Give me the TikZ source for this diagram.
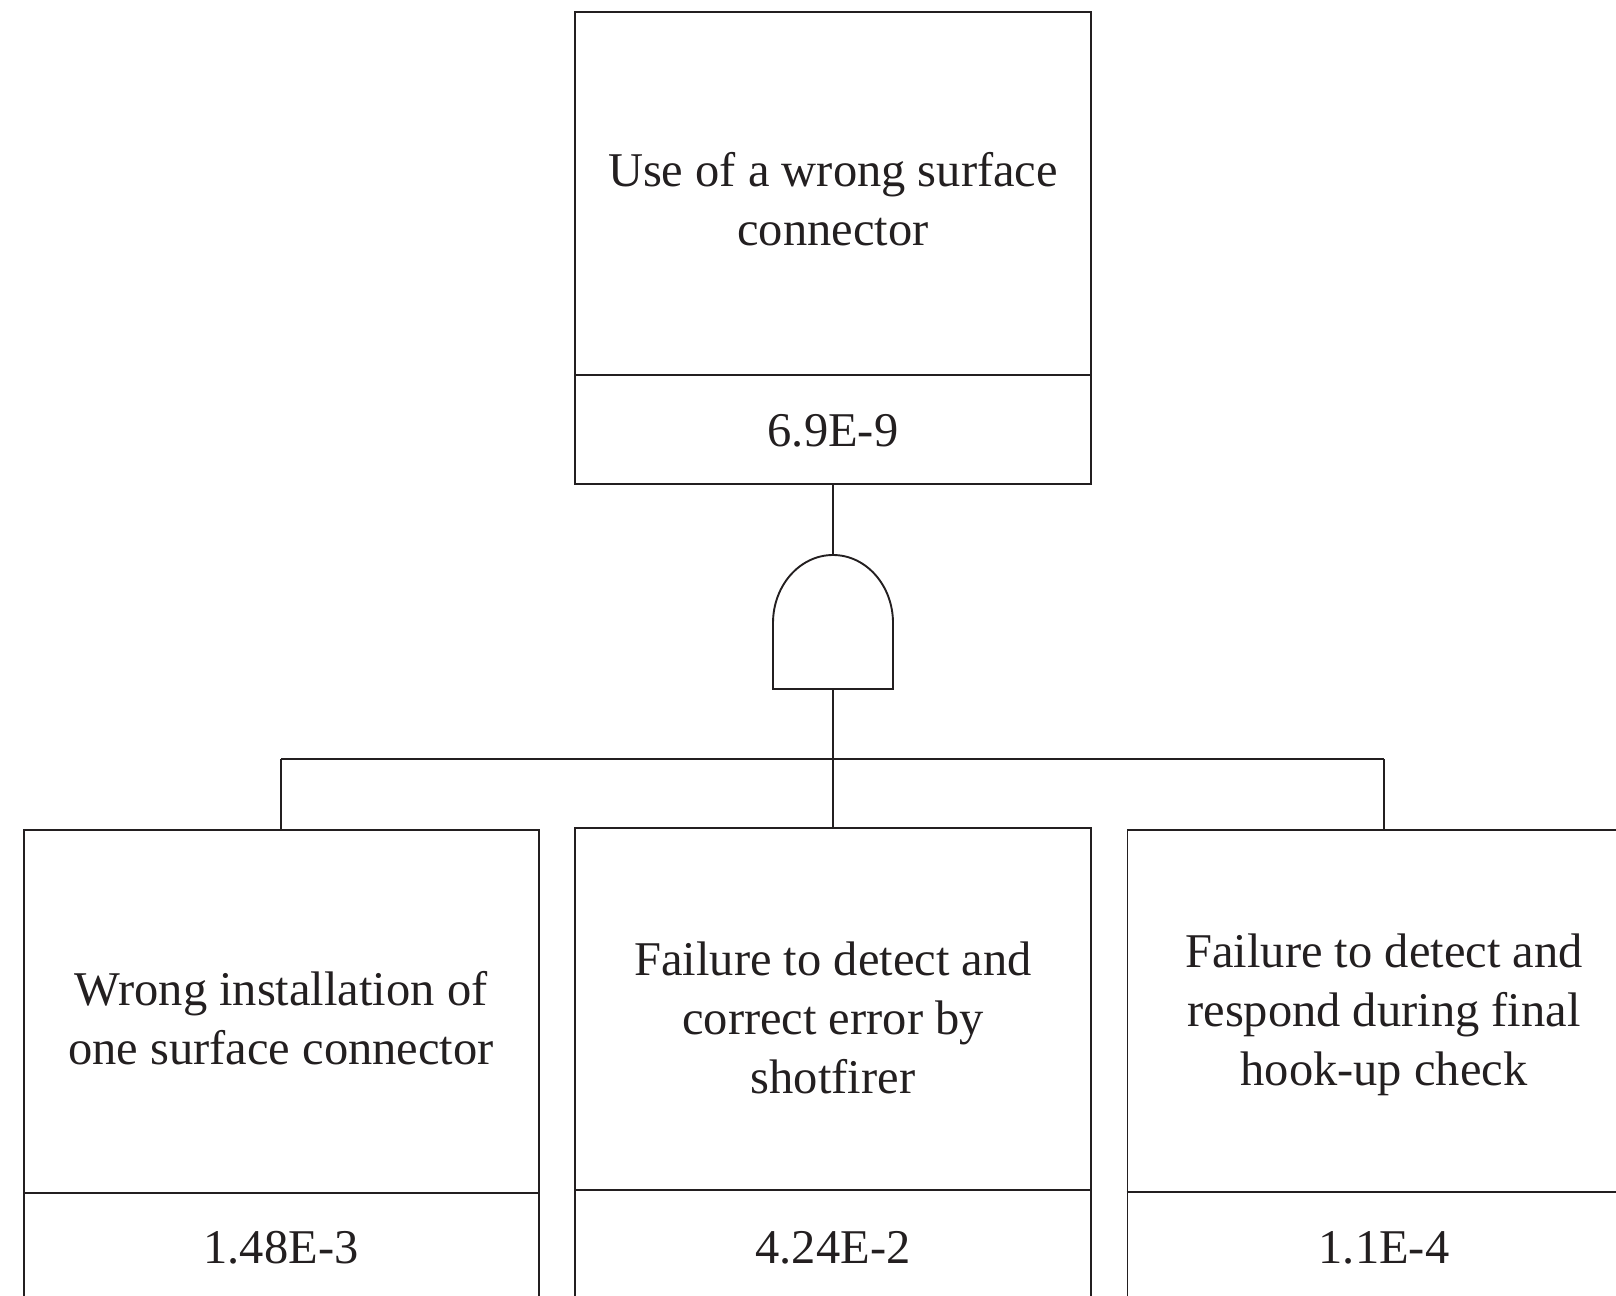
\documentclass[tikz,border=0pt]{standalone}
\usepackage{fontspec}
\setmainfont{Liberation Serif}
\definecolor{ink}{HTML}{231F20}
\begin{document}
\begin{tikzpicture}[x=1pt,y=-1pt,
  box/.style={draw=ink,line width=1.9pt,rectangle,inner sep=0pt,minimum width=#1},
  lbl/.style={text=ink,align=center,inner sep=0pt,font=\fontsize{48.5}{59}\selectfont},
  wire/.style={draw=ink,line width=2.2pt},
  divider/.style={draw=ink,line width=1.9pt}]
\clip (0,0) rectangle (1616,1295);
% boxes
\node[box=516pt,minimum height=472pt] (top) at (833,248) {};
\node[box=515pt,minimum height=500pt] (left) at (281.5,1080) {};
\node[box=516pt,minimum height=502.4pt] (mid) at (833,1078.8) {};
\node[box=516pt,minimum height=500pt] (right) at (1385.5,1080) {};
% dividers
\draw[divider] (top.west |- 0,375) -- (top.east |- 0,375);
\draw[divider] (left.west |- 0,1193) -- (left.east |- 0,1193);
\draw[divider] (mid.west |- 0,1190) -- (mid.east |- 0,1190);
\draw[divider] (right.west |- 0,1192) -- (right.east |- 0,1192);
% texts
\node[lbl] (ttop) at (833,199) {Use of a wrong surface\\connector};
\node[lbl] (vtop) at (833,431) {6.9E-9};
\node[lbl] (tleft) at (281,1018) {Wrong installation of\\one surface connector};
\node[lbl] (vleft) at (281,1248) {1.48E-3};
\node[lbl] (tmid) at (833,1018) {Failure to detect and\\correct error by\\shotfirer};
\node[lbl] (vmid) at (833,1248) {4.24E-2};
\node[lbl] (tright) at (1384,1015) {Failure to detect and\\respond during final\\hook-up check};
\node[lbl] (vright) at (1384,1248) {1.1E-4};
% AND gate
\coordinate (gt) at (833,555);
\coordinate (gb) at (833,689);
\draw[draw=ink,line width=1.9pt] (gb) -- (773,689) -- (773,623)
  arc[start angle=180,end angle=0,x radius=60pt,y radius=68pt] -- (893,689) -- cycle;
% connectors
\coordinate (busL) at (281,759);
\coordinate (busM) at (833,759);
\coordinate (busR) at (1384,759);
\draw[wire] (top.south) -- (gt);
\draw[wire] (gb) -- (busM);
\draw[wire] (busL) -- (busR);
\draw[wire] (busL) -- (busL |- left.north);
\draw[wire] (busM) -- (mid.north);
\draw[wire] (busR) -- (busR |- right.north);
\end{tikzpicture}
\end{document}
